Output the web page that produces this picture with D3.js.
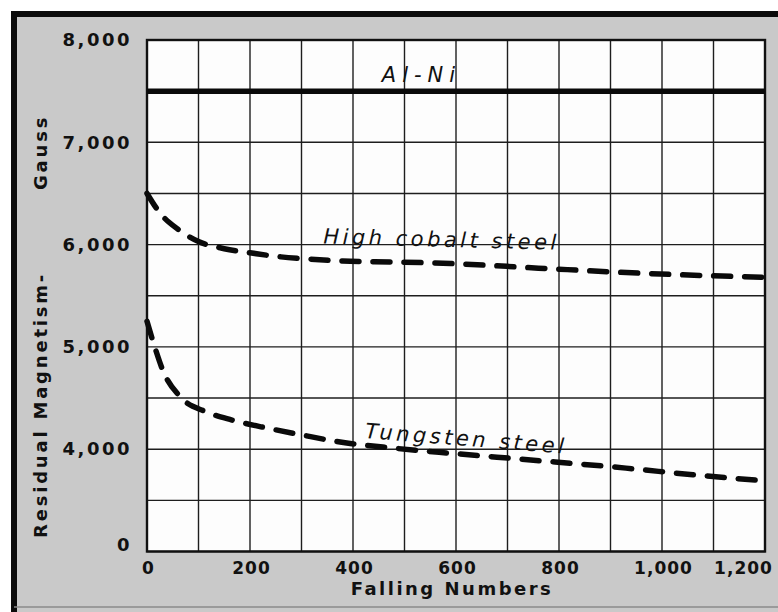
<!DOCTYPE html>
<html>
<head>
<meta charset="utf-8">
<script src="https://cdn.jsdelivr.net/npm/d3@7"></script>
<style>
  body { margin: 0; background: #fff; }
  svg text { font-family: "DejaVu Sans", sans-serif; fill: #111; }
</style>
</head>
<body>
<svg id="chart" width="778" height="612"></svg>
<script>
// ---- data ----
var xTickValues = [0, 200, 400, 600, 800, 1000, 1200];
var xTickLabels = ["0", "200", "400", "600", "800", "1,000", "1,200"];
// axis is broken: the bottom line is labelled 0 but sits where 3,000 would be
var yTickValues = [8000, 7000, 6000, 5000, 4000, 3000];
var yTickLabels = ["8,000", "7,000", "6,000", "5,000", "4,000", "0"];

var alNiFalls  = [0, 1200];
var alNiGauss  = [7500, 7500];

var cobaltFalls = [0, 25, 60, 100, 150, 200, 260, 310, 380, 480, 590, 760, 960, 1200];
var cobaltGauss = [6500, 6310, 6150, 6030, 5960, 5920, 5880, 5860, 5840, 5830, 5815, 5770, 5720, 5680];

var tungstenFalls = [0, 15, 30, 65, 115, 165, 230, 300, 375, 480, 590, 745, 930, 1060, 1200];
var tungstenGauss = [5250, 5000, 4780, 4510, 4365, 4285, 4210, 4140, 4070, 4010, 3960, 3895, 3815, 3750, 3690];

var svg = d3.select("#chart");

var x = d3.scaleLinear().domain([0, 1200]).range([147, 765]);
var y = d3.scaleLinear().domain([3000, 8000]).range([551.5, 40]);

// grey card with the heavy black frame on the left and top
svg.append("rect")
    .attr("x", 14).attr("y", 14)
    .attr("width", 800).attr("height", 620)
    .attr("fill", "#c9c9c9");
svg.append("path")
    .attr("d", "M14,640 L14,14 L800,14")
    .attr("fill", "none")
    .attr("stroke", "#0b0b0b")
    .attr("stroke-width", 6);
svg.append("line")
    .attr("x1", 14).attr("x2", 778).attr("y1", 607).attr("y2", 607)
    .attr("stroke", "#8a8a8a").attr("stroke-width", 1.5);

// plot area
svg.append("rect")
    .attr("x", x(0)).attr("y", y(8000))
    .attr("width", x(1200) - x(0)).attr("height", y(3000) - y(8000))
    .attr("fill", "#fdfdfd");

// gridlines
var grid = svg.append("g").attr("class", "grid");
grid.selectAll(".vgrid")
    .data(d3.range(0, 1201, 100))
  .enter().append("line")
    .attr("x1", x).attr("x2", x)
    .attr("y1", y(8000)).attr("y2", y(3000))
    .attr("stroke", "#1e1e1e").attr("stroke-width", 1.4);
grid.selectAll(".hgrid")
    .data(d3.range(3000, 8001, 500))
  .enter().append("line")
    .attr("y1", y).attr("y2", y)
    .attr("x1", x(0)).attr("x2", x(1200))
    .attr("stroke", "#1e1e1e").attr("stroke-width", 1.4);

// frame of plot
svg.append("rect")
    .attr("x", x(0)).attr("y", y(8000))
    .attr("width", x(1200) - x(0)).attr("height", y(3000) - y(8000))
    .attr("fill", "none")
    .attr("stroke", "#111").attr("stroke-width", 2.4);

// y axis labels
svg.append("g")
    .attr("transform", "translate(" + x(0) + ",0)")
    .call(d3.axisLeft(y).tickValues(yTickValues).tickSize(0).tickPadding(15)
        .tickFormat(function(d, i) { return yTickLabels[i]; }))
    .call(function(g) {
      g.select(".domain").remove();
      g.selectAll("text")
          .attr("fill", "#111")
          .style("font-size", "18px")
          .style("font-weight", "bold")
          .style("letter-spacing", "2.5px")
          .style("font-family", "DejaVu Sans, sans-serif")
          .attr("dy", function(d) { return d === 3000 ? "-0.05em" : "0.32em"; });
    });

// x axis labels
svg.append("g")
    .attr("transform", "translate(0," + y(3000) + ")")
    .call(d3.axisBottom(x).tickValues(xTickValues).tickSize(0).tickPadding(10)
        .tickFormat(function(d, i) { return xTickLabels[i]; }))
    .call(function(g) {
      g.select(".domain").remove();
      g.selectAll("text")
          .attr("fill", "#111")
          .style("font-size", "17px")
          .style("font-weight", "bold")
          .style("letter-spacing", "1px")
          .style("font-family", "DejaVu Sans, sans-serif")
          .attr("dx", function(d) { return d === 1200 ? "-22px" : "1px"; });
    });

// axis titles
svg.append("text")
    .attr("x", x(600) - 4).attr("y", 595)
    .attr("text-anchor", "middle")
    .style("font-size", "18px").style("font-weight", "bold")
    .style("letter-spacing", "2.5px")
    .text("Falling Numbers");

svg.append("text")
    .attr("transform", "translate(47,538) rotate(-90)")
    .style("font-size", "18px").style("font-weight", "bold")
    .style("letter-spacing", "2.8px")
    .text("Residual Magnetism-");
svg.append("text")
    .attr("transform", "translate(47,190) rotate(-90)")
    .style("font-size", "18px").style("font-weight", "bold")
    .style("letter-spacing", "2.8px")
    .text("Gauss");

// series
function series(falls, gauss) {
  return falls.map(function(f, i) { return [f, gauss[i]]; });
}
var line = d3.line()
    .curve(d3.curveMonotoneX)
    .x(function(d) { return x(d[0]); })
    .y(function(d) { return y(d[1]); });

svg.append("path")
    .attr("d", line(series(alNiFalls, alNiGauss)))
    .attr("fill", "none").attr("stroke", "#0a0a0a").attr("stroke-width", 5.5);

[series(cobaltFalls, cobaltGauss), series(tungstenFalls, tungstenGauss)].forEach(function(s) {
  svg.append("path")
      .attr("d", line(s))
      .attr("fill", "none")
      .attr("stroke", "#0a0a0a")
      .attr("stroke-width", 5.5)
      .attr("stroke-linecap", "round")
      .attr("stroke-dasharray", "17,14");
});

// series labels, hand lettered italic
function label(txt, fx, gy, angle, spacing) {
  svg.append("text")
      .attr("transform", "translate(" + x(fx) + "," + y(gy) + ") rotate(" + angle + ")")
      .style("font-size", "21px")
      .style("font-style", "italic")
      .style("letter-spacing", spacing + "px")
      .text(txt);
}
label("Al-Ni", 456, 7590, 0, 6);
label("High cobalt steel", 342, 6010, 1.5, 3.5);
label("Tungsten steel", 423, 4110, 4.5, 3.5);
</script>
</body>
</html>
